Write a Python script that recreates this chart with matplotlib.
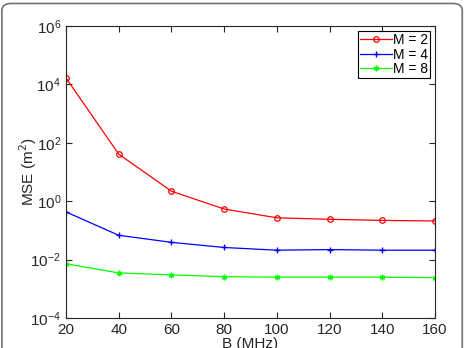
import matplotlib.pyplot as plt
from matplotlib.patches import FancyBboxPatch

plt.rcParams['font.family'] = ['Liberation Sans', 'DejaVu Sans']

bw = [20, 40, 60, 80, 100, 120, 140, 160]
mse_m2 = [1.66e4, 41, 2.2, 0.54, 0.27, 0.24, 0.22, 0.21]
mse_m4 = [0.43, 0.068, 0.039, 0.026, 0.021, 0.022, 0.021, 0.021]
mse_m8 = [0.0072, 0.0035, 0.0030, 0.0026, 0.0025, 0.0025, 0.0025, 0.0024]
labels = ['M = 2', 'M = 4', 'M = 8']

fig = plt.figure(figsize=(4.66, 3.48), dpi=100)
ax = fig.add_axes([0.1416, 0.0862, 0.7919, 0.8391])

ax.plot(bw, mse_m2, '-o', color='#ff0000', mfc='none', markersize=4, mew=0.9, lw=0.9, label=labels[0])
ax.plot(bw, mse_m4, '-+', color='#0000ff', markersize=5, mew=1.0, lw=0.9, label=labels[1])
ax.plot(bw, mse_m8, '-', marker=(6, 2, 0), color='#00ff00', markersize=4, mew=1.0, lw=0.9, label=labels[2])

ax.set_yscale('log')
ax.set_xlim(20, 160)
ax.set_ylim(1e-4, 1e6)
ax.set_xticks(bw)
ax.set_yticks([1e-4, 1e-2, 1e0, 1e2, 1e4, 1e6])
ax.minorticks_off()
ax.tick_params(direction='in', top=True, right=True, labelsize=11, length=4, width=0.8,
               colors='#262626', labelcolor='#262626')
for s in ax.spines.values():
    s.set_color('#262626')
    s.set_linewidth(0.8)

ax.set_xlabel('B (MHz)', fontsize=11, labelpad=0, color='#262626')
ax.set_ylabel('MSE (m$^2$)', fontsize=11, labelpad=-6, color='#262626')

leg = ax.legend(loc='upper right', fontsize=10, fancybox=False, framealpha=1,
                edgecolor='black', borderpad=0.15, labelspacing=0.05, handlelength=2.3,
                handletextpad=0.1, borderaxespad=0.35)
leg.get_frame().set_linewidth(0.8)

# rounded frame around the picture
frame = FancyBboxPatch((0.004, -0.05), 0.988, 1.04, boxstyle='round,pad=0,rounding_size=0.02',
                       transform=fig.transFigure, fill=False, edgecolor='#707070', lw=1.2)
fig.patches.append(frame)

fig.savefig('out.png', dpi=100)
